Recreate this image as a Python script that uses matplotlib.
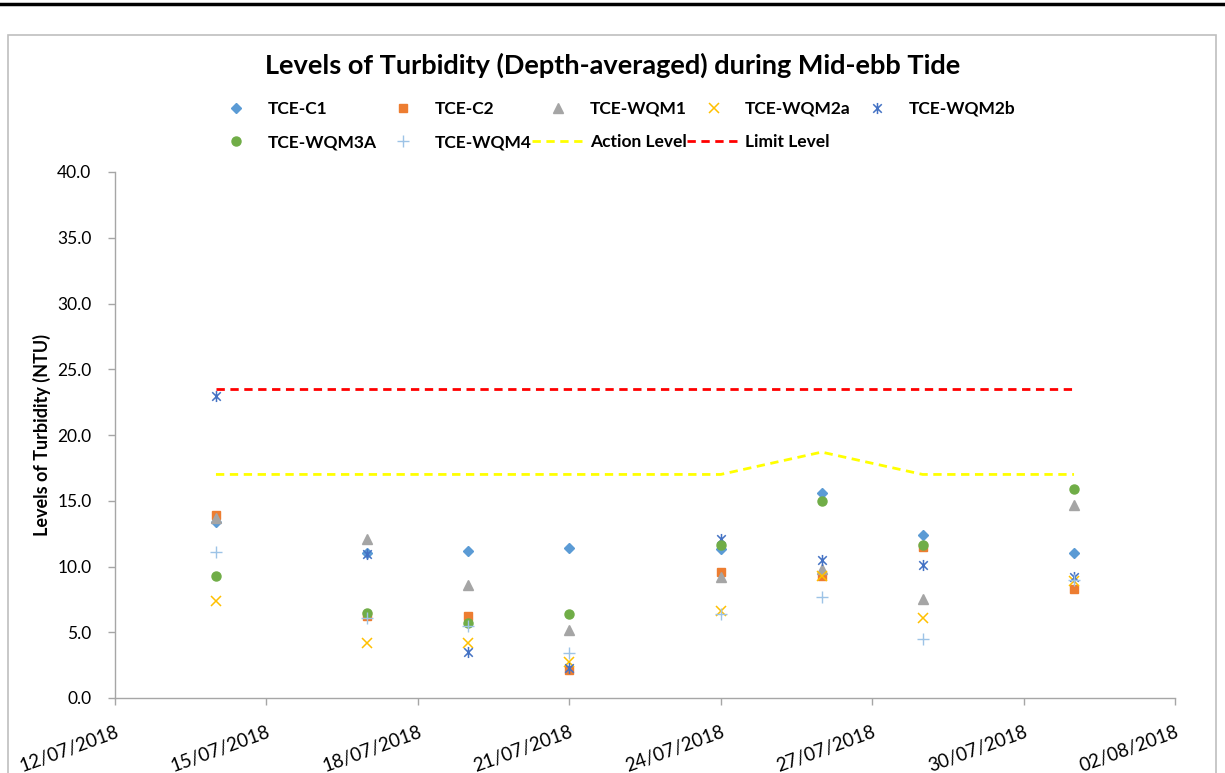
import matplotlib
matplotlib.use("Agg")
import matplotlib.pyplot as plt
import matplotlib.dates as mdates
from matplotlib.path import Path
from matplotlib.patches import Rectangle
from matplotlib.lines import Line2D
import datetime as dt

# ---- data ----
dates = ["2018-07-14", "2018-07-17", "2018-07-19", "2018-07-21",
         "2018-07-24", "2018-07-26", "2018-07-28", "2018-07-31"]
tce_c1 = [13.4, 11.0, 11.2, 11.4, 11.3, 15.6, 12.4, 11.0]
tce_c2 = [13.9, 6.2, 6.2, 2.1, 9.6, 9.3, 11.5, 8.3]
tce_wqm1 = [13.7, 12.1, 8.6, 5.2, 9.2, 9.8, 7.5, 14.7]
tce_wqm2a = [7.4, 4.2, 4.2, 2.7, 6.6, 9.3, 6.1, 8.9]
tce_wqm2b = [23.0, 10.95, 3.5, 2.3, 12.1, 10.5, 10.1, 9.2]
tce_wqm3a = [9.3, 6.5, 5.7, 6.4, 11.6, 15.0, 11.6, 15.9]
tce_wqm4 = [11.1, 6.1, 5.5, 3.4, 6.4, 7.7, 4.5, 9.0]
action_level = [17.0, 17.0, 17.0, 17.0, 17.0, 18.7, 17.0, 17.0]
limit_level = [23.5, 23.5, 23.5, 23.5, 23.5, 23.5, 23.5, 23.5]

x_start = "2018-07-12"
x_end = "2018-08-02"
y_ticks = [0, 5, 10, 15, 20, 25, 30, 35, 40]

title = "Levels of Turbidity (Depth-averaged) during Mid-ebb Tide"
ylabel = "Levels of Turbidity (NTU)"

plt.rcParams['font.family'] = ['Lato', 'DejaVu Sans']

x = [dt.datetime.strptime(d, "%Y-%m-%d") for d in dates]
x0 = dt.datetime.strptime(x_start, "%Y-%m-%d")
x1 = dt.datetime.strptime(x_end, "%Y-%m-%d")

fig = plt.figure(figsize=(12.25, 7.73), dpi=100)
ax = fig.add_axes([115/1225, 1-698/773, (1175-115)/1225, (698-172)/773])

# star marker (x with vertical bar)
star_path = Path(
    [(-1, -1), (1, 1), (-1, 1), (1, -1), (0, -1.3), (0, 1.3)],
    [Path.MOVETO, Path.LINETO, Path.MOVETO, Path.LINETO, Path.MOVETO, Path.LINETO])

h = {}
h['TCE-C1'] = ax.plot(x, tce_c1, linestyle='none', marker='D', ms=5.5,
                      color='#5B9BD5', label='TCE-C1')[0]
h['TCE-C2'] = ax.plot(x, tce_c2, linestyle='none', marker='s', ms=6,
                      color='#ED7D31', label='TCE-C2')[0]
h['TCE-WQM1'] = ax.plot(x, tce_wqm1, linestyle='none', marker='^', ms=7,
                        color='#A5A5A5', label='TCE-WQM1')[0]
h['TCE-WQM2a'] = ax.plot(x, tce_wqm2a, linestyle='none', marker='x', ms=7,
                         mew=1.1, color='#FFC000', label='TCE-WQM2a')[0]
h['TCE-WQM2b'] = ax.plot(x, tce_wqm2b, linestyle='none', marker=star_path, ms=8,
                         mew=1.1, color='#4472C4', label='TCE-WQM2b')[0]
h['TCE-WQM3A'] = ax.plot(x, tce_wqm3a, linestyle='none', marker='o', ms=6.5,
                         color='#70AD47', label='TCE-WQM3A')[0]
h['TCE-WQM4'] = ax.plot(x, tce_wqm4, linestyle='none', marker='+', ms=8,
                        mew=1.0, color='#9DC3E6', label='TCE-WQM4')[0]
h['Action Level'] = ax.plot(x, action_level, linestyle=(0, (3, 2)), lw=2.0,
                            color='#FFFF00', label='Action Level')[0]
h['Limit Level'] = ax.plot(x, limit_level, linestyle=(0, (3, 2)), lw=2.0,
                           color='#FF0000', label='Limit Level')[0]

ax.set_xlim(x0, x1)
ax.set_ylim(0, 40)
ax.set_yticks(y_ticks)
ax.yaxis.set_major_formatter(matplotlib.ticker.FormatStrFormatter('%.1f'))
ax.set_xticks(mdates.drange(x0, x1 + dt.timedelta(days=1), dt.timedelta(days=3)))
ax.xaxis.set_major_formatter(mdates.DateFormatter('%d/%m/%Y'))

for s in ['top', 'right']:
    ax.spines[s].set_visible(False)
for s in ['left', 'bottom']:
    ax.spines[s].set_color('#A6A6A6')
    ax.spines[s].set_linewidth(1.0)
ax.tick_params(axis='both', colors='#A6A6A6', labelcolor='black', length=5,
               width=1.0, labelsize=12.5)
ax.tick_params(axis='y', pad=12)
ax.tick_params(axis='x', pad=13, labelsize=13.5)
for lab in ax.get_xticklabels():
    lab.set_rotation(20)
    lab.set_ha('right')
    lab.set_va('top')
    lab.set_rotation_mode('anchor')

ax.set_ylabel(ylabel, fontsize=13, fontweight='bold')
ax.yaxis.set_label_coords(-0.060, 0.5)

fig.text(0.5, 1-65/773, title, ha='center', va='center', fontsize=19.5, fontweight='bold')

order = ['TCE-C1', 'TCE-WQM3A', 'TCE-C2', 'TCE-WQM4', 'TCE-WQM1', 'Action Level',
         'TCE-WQM2a', 'Limit Level', 'TCE-WQM2b']
leg = fig.legend([h[k] for k in order], order, ncol=5, loc='upper left',
                 bbox_to_anchor=(210/1225, 1-101/773), frameon=False,
                 prop={'weight': 'bold', 'size': 12.5}, handlelength=3.0,
                 handletextpad=0.3, columnspacing=0.05, labelspacing=1.0,
                 borderpad=0, borderaxespad=0)

# chart frame and top rule
fig.patches.append(Rectangle((8/1225, -0.02), (1216-8)/1225, 1-35/773+0.02,
                             transform=fig.transFigure, fill=False,
                             edgecolor='#BFBFBF', lw=1.2))
fig.add_artist(Line2D([0, 1], [1-4/773, 1-4/773], transform=fig.transFigure,
                      color='black', lw=2.5))

fig.savefig('out.png', dpi=100)
